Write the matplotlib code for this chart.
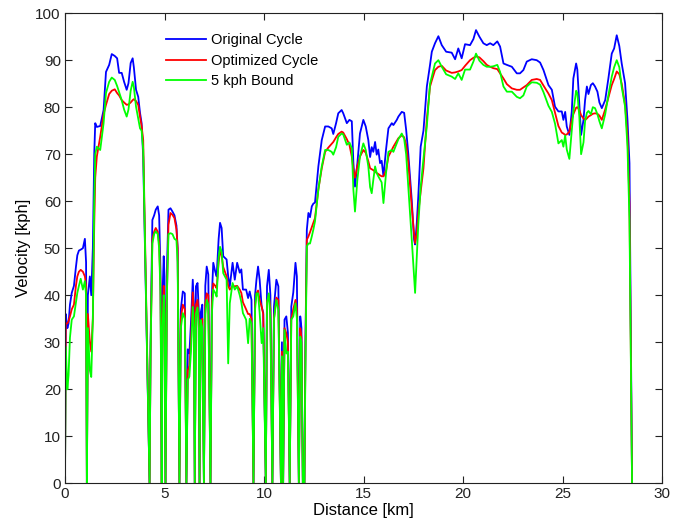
import matplotlib
matplotlib.use("Agg")
import matplotlib.pyplot as plt

plt.rcParams['font.family'] = ['Liberation Sans', 'DejaVu Sans']

# Distance along the route [km] and speed traces [kph]
distance_km = [
    0.00, 0.04, 0.12, 0.18, 0.25, 0.34, 0.45, 0.55, 0.62, 0.70, 0.79, 0.90, 1.00, 1.06, 1.10,
    1.15, 1.25, 1.32, 1.40, 1.47, 1.52, 1.60, 1.77, 1.94, 2.06, 2.22, 2.35, 2.50, 2.62, 2.72,
    2.85, 2.97, 3.10, 3.19, 3.30, 3.40, 3.46, 3.57, 3.68, 3.77, 3.85, 3.93, 4.25,
    4.30, 4.39, 4.48, 4.56, 4.66, 4.73, 4.80, 4.86,
    4.90, 4.96, 5.00, 5.05,
    5.12, 5.20, 5.30, 5.40, 5.50, 5.60, 5.66, 5.75,
    5.82, 5.92, 6.02, 6.10,
    6.17, 6.25, 6.33, 6.42, 6.48, 6.52,
    6.58, 6.66, 6.72, 6.76,
    6.82, 6.90, 6.98,
    7.05, 7.12, 7.20, 7.31,
    7.38, 7.45, 7.55, 7.62, 7.72, 7.79, 7.87, 7.95, 8.12, 8.20, 8.28, 8.42, 8.53, 8.65,
    8.78, 8.86, 8.94, 9.10, 9.20, 9.28, 9.37, 9.47,
    9.55, 9.62, 9.70, 9.78, 9.88, 9.96, 10.09,
    10.15, 10.24, 10.32, 10.42,
    10.50, 10.62, 10.72, 10.85,
    10.90, 10.96,
    11.03, 11.12, 11.20, 11.29,
    11.37, 11.47, 11.58, 11.65, 11.75,
    11.82, 11.88, 11.95, 12.03,
    12.08, 12.15, 12.23, 12.31, 12.40, 12.48, 12.56, 12.73, 12.90, 13.07, 13.23, 13.40,
    13.48, 13.62, 13.73, 13.90, 13.98, 14.16, 14.29, 14.41, 14.49, 14.57, 14.69, 14.82,
    14.99, 15.11, 15.24, 15.33, 15.41, 15.49, 15.58, 15.66, 15.74, 15.83, 15.91, 16.00,
    16.13, 16.25, 16.42, 16.50, 16.67, 16.75, 16.92, 17.04, 17.14, 17.25, 17.42, 17.54,
    17.59, 17.67, 17.75, 17.87, 18.01, 18.18, 18.34, 18.43, 18.59, 18.76, 18.93, 19.15,
    19.43, 19.60, 19.76, 19.93, 20.10, 20.35, 20.52, 20.65, 20.82, 21.02, 21.19, 21.36,
    21.52, 21.72, 21.86, 22.03, 22.20, 22.45, 22.70, 22.86, 23.03, 23.20, 23.45, 23.70,
    23.87, 24.04, 24.29, 24.46, 24.62, 24.79, 24.96, 25.04, 25.13, 25.21, 25.34, 25.46,
    25.54, 25.68, 25.74, 25.84, 25.93, 26.05, 26.13, 26.22, 26.30, 26.42, 26.52, 26.63,
    26.75, 26.85, 26.97, 27.14, 27.30, 27.47, 27.59, 27.72, 27.85, 27.97, 28.14, 28.26,
    28.36, 28.49,
]

original_kph = [
    0, 36, 33, 34, 38, 40.5, 42, 46, 48.5, 49.5, 49.7, 50, 52, 47, 0,
    40, 44, 40, 50, 70, 76.6, 75.8, 76, 79.4, 87.5, 89, 91.3, 90.9, 90.4, 87.3,
    87.3, 85.4, 83.7, 85.1, 89.4, 90.4, 88.5, 83.7, 82.2, 78.8, 76.6, 69.4, 0,
    30, 56, 57, 58.2, 58.9, 57, 45, 0,
    40, 48.3, 44, 0,
    45, 58.2, 58.5, 57.8, 57, 54.8, 50, 0,
    37, 40.8, 40.4, 0,
    28.5, 27.6, 34.2, 43.3, 37.6, 0,
    41.9, 42.6, 36.9, 0,
    36.3, 38, 0,
    42, 46.1, 44.4, 0,
    40, 46.9, 45, 44, 52, 55.4, 54.3, 48.3, 47.6, 44, 41.9, 46.9, 43.3, 46.9,
    44.8, 45.5, 41.2, 41.2, 39.4, 40.8, 39, 0,
    40, 43.3, 46.1, 43.3, 37.6, 36.3, 0,
    41.9, 45.4, 40, 0,
    37.6, 43.3, 41.9, 0,
    30, 0,
    34.8, 35.5, 32, 0,
    37.6, 40.6, 46.9, 44, 0,
    35.5, 33, 0, 0,
    30, 53.9, 57.5, 56.6, 58.9, 59.5, 59.7, 67.4, 73, 75.9, 75.9, 75.5,
    74.3, 76.6, 78.7, 79.4, 78.7, 76.6, 77.3, 77, 68.1, 63.1, 68.1, 74.4,
    77.3, 75.9, 73, 69.4, 71.5, 70.5, 72.6, 69.9, 71, 68.1, 68.6, 65.3,
    71, 75.5, 76.6, 76.2, 77.3, 78, 79, 78.8, 75.2, 70, 60.3, 51.8,
    50.8, 55, 61, 71.6, 75, 84.4, 89, 91.8, 93.6, 95.1, 93.2, 91.8,
    91.6, 90.2, 92.5, 90.4, 93.4, 93.2, 94.5, 96.4, 95, 93.6, 93.2, 93.6,
    93.2, 94, 92.9, 89.3, 89, 88.6, 87.2, 87.2, 87.9, 89.7, 90.2, 90,
    89.5, 87.9, 84.7, 83.7, 80.1, 79.1, 79.1, 77.3, 79, 75.9, 74.1, 79,
    86.1, 89.3, 88, 80.8, 74.1, 77.3, 81.5, 84.4, 82.8, 84.7, 85.1, 84.4,
    83.3, 81, 79.8, 81.5, 86.1, 91.4, 92.5, 95.3, 93, 89.3, 85.1, 77.3,
    68.1, 0,
]

optimized_kph = [
    0, 34, 34, 34.5, 35.5, 37, 38, 42, 44, 45, 45.4, 45, 44, 42, 0,
    36, 30, 28, 35, 55, 65, 69.5, 73.7, 78.5, 80.5, 82.8, 83.5, 83.8, 83, 82.5,
    81.5, 81, 80.5, 80.6, 81, 81.5, 81.7, 81.3, 80.5, 78, 76, 73, 0,
    28, 52, 53.5, 54.3, 53.5, 51, 42, 0,
    35, 42, 39, 0,
    40, 55, 57.5, 57.1, 56.4, 54, 50, 0,
    35, 38, 37, 0,
    24, 25, 30, 40.6, 36, 0,
    38, 39, 35, 0,
    34, 35, 0,
    38, 40.4, 40, 0,
    38, 42.5, 42, 41.5, 47, 49.3, 48.5, 46, 44, 42, 41.2, 42, 41.9, 42,
    41.2, 40.5, 38.5, 37, 36, 36, 35, 0,
    38, 40.4, 41, 39, 37.6, 36, 0,
    38.7, 40, 37, 0,
    35, 39.5, 39, 0,
    28, 0,
    33, 31.9, 30, 0,
    35, 37, 39, 37, 0,
    33, 31, 0, 0,
    28, 51.8, 52.5, 53.4, 54.5, 55.5, 56.4, 62.5, 67, 70.5, 71.4, 72.2,
    72.6, 73.6, 74.3, 74.8, 74.6, 73.2, 72, 69.5, 66.7, 65, 67.5, 69.5,
    70.9, 70.3, 68.5, 67, 66.8, 66.6, 66.3, 66, 65.8, 65.5, 65.3, 65.3,
    66.5, 69.5, 70.9, 71.6, 72.8, 73.4, 74, 73.6, 72, 68.1, 58.9, 53,
    51.1, 53, 57.5, 62, 67, 77.5, 84.4, 85.7, 87.9, 88.6, 88.8, 87.8,
    87.3, 87.4, 87.6, 87.9, 88.8, 90, 90.5, 90.8, 90.6, 89.8, 89, 88.6,
    88.3, 88.1, 87.2, 86.1, 84.9, 84, 83.7, 83.7, 84.2, 84.7, 85.8, 86,
    85.8, 84.6, 82.9, 81.5, 78.8, 76, 74.6, 74.4, 74.1, 74.2, 74.8, 77.3,
    78.5, 79.9, 80, 79.4, 78.3, 77.6, 77.3, 77.6, 78, 78.3, 78.6, 78.7,
    78.6, 78.2, 77.3, 79.5, 82, 84.7, 86, 87.6, 87, 85, 80.5, 74,
    59.5, 0,
]

bound_kph = [
    0, 29, 20, 23, 31, 34.8, 35.5, 38.5, 40.5, 42, 43.5, 41.2, 43, 40, 0,
    33, 24, 22.6, 35, 60, 70, 71.6, 70.9, 76.6, 83, 85.4, 86.3, 85.8, 84.5, 83.2,
    81.5, 79.5, 78, 79.5, 83.5, 85.4, 84.3, 80.1, 77.5, 75.5, 75, 71, 0,
    28, 51, 53, 53.6, 53, 50, 40, 0,
    33, 40, 36, 0,
    40, 53, 53.2, 53, 52, 51.7, 47, 0,
    33, 36.2, 35, 0,
    22, 22.7, 28, 37.5, 33, 0,
    36.1, 37.4, 33, 0,
    34.7, 33, 0,
    36, 39, 38, 0,
    36, 41.2, 40.5, 39.7, 48, 50.3, 49.3, 44.7, 43.3, 25.5, 38.3, 42.6, 41.2, 41.9,
    40, 38.5, 36.2, 34.8, 29.8, 35, 34, 0,
    37, 40.4, 40.4, 36.2, 29.8, 33, 0,
    38.3, 40.4, 35, 0,
    34.8, 39, 37, 0,
    27, 0,
    32.6, 27.6, 28, 0,
    34.8, 35.5, 38.3, 35, 0,
    31.2, 30, 0, 0,
    25, 50.4, 51, 51, 52.5, 54, 55.7, 62.5, 67.4, 70.9, 70.9, 70.5,
    69.9, 71.5, 73.7, 74.4, 74.2, 72, 72.5, 71.3, 62.4, 57.8, 64.6, 69.5,
    72.3, 70.9, 67.4, 63, 61.7, 64.5, 67.4, 66, 65.3, 64.6, 64, 59.6,
    66, 70.5, 70.9, 70.5, 72.3, 73.2, 74.4, 73.3, 70, 63, 52, 44,
    40.5, 47.6, 55, 63, 69, 76, 85, 86.5, 89.3, 90, 88.6, 87,
    86.5, 86, 87.2, 85.8, 88, 88, 89.7, 91.4, 89.9, 89, 88.6, 88.6,
    88.7, 89, 87.5, 84.4, 83.3, 83.3, 82.2, 81.9, 82.5, 84.4, 85.3, 85.2,
    84.8, 83.2, 80.3, 79, 76.5, 72.3, 73, 71.6, 74, 71, 69, 75,
    79, 83.5, 83, 78, 70, 72.5, 77, 78.8, 79.2, 78.5, 80, 79.8,
    78.5, 77, 75.5, 78.5, 82.5, 86.5, 88.5, 90, 88.5, 84.3, 80.1, 71.6,
    56, 0,
]

series_labels = ["Original Cycle", "Optimized Cycle", "5 kph Bound"]

fig = plt.figure(figsize=(6.84, 5.27), dpi=100)
ax = fig.add_axes([0.095, 0.083, 0.873, 0.892])

lw = 1.3
ax.plot(distance_km, original_kph, color="#0000ff", lw=lw, label=series_labels[0])
ax.plot(distance_km, optimized_kph, color="#ff0000", lw=lw, label=series_labels[1])
ax.plot(distance_km, bound_kph, color="#00ff00", lw=lw, label=series_labels[2])

ax.set_xlim(0, 30)
ax.set_ylim(0, 100)
ax.set_xticks(range(0, 31, 5))
ax.set_yticks(range(0, 101, 10))
ax.tick_params(direction="in", top=True, right=True, labelsize=11, length=5,
               width=0.8, colors="#222222", pad=3)
for s in ax.spines.values():
    s.set_linewidth(0.8)
    s.set_color("#222222")

ax.set_xlabel("Distance [km]", fontsize=12, labelpad=1)
ax.set_ylabel("Velocity [kph]", fontsize=12, labelpad=3)

leg = ax.legend(loc="upper left", bbox_to_anchor=(0.147, 0.985), frameon=False,
                fontsize=10.5, handlelength=2.75, handletextpad=0.35, labelspacing=0.45)

fig.savefig("out.png", dpi=100)
